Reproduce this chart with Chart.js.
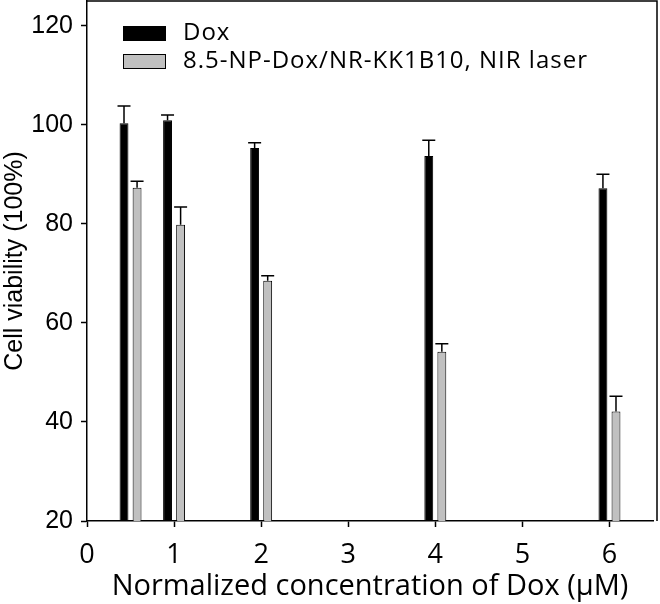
<!DOCTYPE html>
<html>
<head>
<meta charset="utf-8">
<script src="https://cdn.jsdelivr.net/npm/chart.js@4"></script>
<style>
html, body { margin: 0; padding: 0; background: #fff; }
</style>
</head>
<body>
<canvas id="chart" width="660" height="604"></canvas>
<script>
// concentration of Dox (uM) and measured viability (%)
const concentrations = [0.5, 1, 2, 4, 6];
const doxViability = [100.3, 100.9, 95.3, 93.7, 87.2];
const doxError = [3.5, 1.1, 1.1, 3.2, 2.8];
const npViability = [87.3, 79.8, 68.5, 54.2, 42.1];
const npError = [1.3, 3.6, 1.0, 1.6, 3.1];
const xTicks = [0, 1, 2, 3, 4, 5, 6];
const yTicks = [20, 40, 60, 80, 100, 120];

const sansNarrow = '"Liberation Sans", Arial, sans-serif';
const humanist = '"Open Sans", "Noto Sans", sans-serif';

function points(values) {
    return concentrations.map((c, i) => ({ x: c, y: values[i] }));
}

// error bars, upper side only
const errorBars = {
    id: 'errorBars',
    afterDatasetsDraw(chart) {
        const ctx = chart.ctx;
        const yScale = chart.scales.y;
        ctx.save();
        ctx.strokeStyle = '#000';
        ctx.lineWidth = 1.5;
        chart.data.datasets.forEach((ds, d) => {
            const meta = chart.getDatasetMeta(d);
            meta.data.forEach((bar, i) => {
                const top = yScale.getPixelForValue(ds.data[i].y + ds.errors[i]);
                ctx.beginPath();
                ctx.moveTo(bar.x, bar.y);
                ctx.lineTo(bar.x, top);
                ctx.moveTo(bar.x - 6.5, top);
                ctx.lineTo(bar.x + 6.5, top);
                ctx.stroke();
            });
        });
        ctx.restore();
    }
};

// frame on top and right + legend inside the plot
const frameAndLegend = {
    id: 'frameAndLegend',
    afterDraw(chart) {
        const ctx = chart.ctx;
        const a = chart.chartArea;
        ctx.save();
        ctx.strokeStyle = '#000';
        ctx.lineWidth = 1.5;
        ctx.beginPath();
        ctx.moveTo(a.left, a.top);
        ctx.lineTo(a.right + 4, a.top);
        ctx.lineTo(a.right + 4, a.bottom);
        ctx.stroke();

        ctx.font = '24px ' + humanist;
        ctx.letterSpacing = '1px';
        ctx.textBaseline = 'middle';
        chart.data.datasets.forEach((ds, i) => {
            const x = a.left + 36;
            const y = a.top + 25 + i * 28;
            ctx.fillStyle = ds.backgroundColor;
            ctx.fillRect(x, y, 43, 15);
            ctx.lineWidth = 1;
            ctx.strokeRect(x + 0.5, y + 0.5, 42, 14);
            ctx.fillStyle = '#000';
            ctx.fillText(ds.label, x + 60, y + 7);
        });
        ctx.restore();
    }
};

new Chart(document.getElementById('chart'), {
    type: 'bar',
    data: {
        datasets: [
            {
                label: 'Dox',
                data: points(doxViability),
                errors: doxError,
                backgroundColor: '#000',
                borderColor: '#000',
                borderWidth: 1
            },
            {
                label: '8.5-NP-Dox/NR-KK1B10, NIR laser',
                data: points(npViability),
                errors: npError,
                backgroundColor: '#c0c0c0',
                borderColor: '#000',
                borderWidth: 1
            }
        ]
    },
    options: {
        responsive: false,
        animation: false,
        devicePixelRatio: 1,
        categoryPercentage: 0.6,
        barPercentage: 0.68,
        layout: { padding: { top: 1, right: 7, left: 0, bottom: 0 } },
        plugins: {
            legend: { display: false },
            tooltip: { enabled: false }
        },
        scales: {
            x: {
                type: 'linear',
                min: 0,
                max: 6.5,
                offset: false,
                afterBuildTicks: s => { s.ticks = xTicks.map(v => ({ value: v })); },
                afterFit: s => { s.height = 83; s.paddingLeft = 0; s.paddingRight = 0; },
                ticks: {
                    color: '#000',
                    font: { family: humanist, size: 27 },
                    padding: 12,
                    maxRotation: 0
                },
                grid: {
                    offset: false,
                    drawOnChartArea: false,
                    color: '#000',
                    tickLength: 6,
                    tickWidth: 1.5
                },
                border: { color: '#000', width: 1.5 },
                title: {
                    display: true,
                    text: 'Normalized concentration of Dox (μM)',
                    color: '#000',
                    font: { family: humanist, size: 29 },
                    padding: { top: 0, bottom: 0 }
                }
            },
            y: {
                min: 20,
                max: 125,
                afterBuildTicks: s => { s.ticks = yTicks.map(v => ({ value: v })); },
                afterFit: s => { s.width = 87; s.paddingTop = 0; s.paddingBottom = 0; },
                ticks: {
                    color: '#000',
                    font: { family: sansNarrow, size: 25 },
                    padding: 8
                },
                grid: {
                    drawOnChartArea: false,
                    color: '#000',
                    tickLength: 6,
                    tickWidth: 1.5
                },
                border: { color: '#000', width: 1.5 },
                title: {
                    display: true,
                    text: 'Cell viability (100%)',
                    color: '#000',
                    font: { family: sansNarrow, size: 25 },
                    padding: 0
                }
            }
        }
    },
    plugins: [errorBars, frameAndLegend]
});
</script>
</body>
</html>
